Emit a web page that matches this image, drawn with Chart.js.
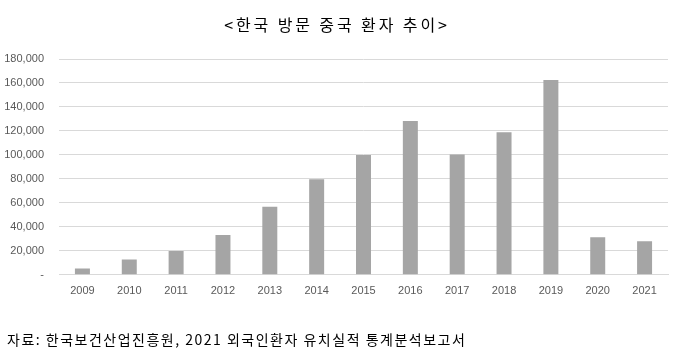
<!DOCTYPE html>
<html>
<head>
<meta charset="utf-8">
<script src="https://cdn.jsdelivr.net/npm/chart.js@4/dist/chart.umd.min.js"></script>
<style>
  html, body { margin: 0; padding: 0; background: #fff; }
  #wrap { width: 674px; height: 353px; position: relative; overflow: hidden; }
  #c { position: absolute; left: 0; top: 0; }
  #title { position: absolute; left: 0; width: 674px; top: 13px; text-align: center;
           font-family: 'Noto Sans CJK KR'; font-size: 16px; line-height: 22px; color: #000;
           letter-spacing: 2.9px; white-space: pre; }
  #source { position: absolute; left: 7px; top: 329px; font-family: 'Noto Sans CJK KR';
            font-size: 14px; line-height: 20px; color: #000; letter-spacing: 1.5px; white-space: pre; }
</style>
</head>
<body>
<div id="wrap">
  <canvas id="c" width="674" height="353"></canvas>
  <div id="title"></div>
  <div id="source"></div>
</div>
<script>
const categories = ['2009','2010','2011','2012','2013','2014','2015','2016','2017','2018','2019','2020','2021'];
const patients = [5200, 12700, 19800, 33300, 56800, 79600, 99900, 128200, 100400, 119000, 162500, 31300, 28000];
const yTicks = [0, 20000, 40000, 60000, 80000, 100000, 120000, 140000, 160000, 180000];
const titleText = '<한국 방문 중국 환자 추이>';
const sourceText = '자료: 한국보건산업진흥원, 2021 외국인환자 유치실적 통계분석보고서';

document.getElementById('title').textContent = titleText;
document.getElementById('source').textContent = sourceText;

new Chart(document.getElementById('c'), {
  type: 'bar',
  data: {
    labels: categories,
    datasets: [{
      data: patients,
      backgroundColor: '#A5A5A5',
      borderWidth: 0,
      categoryPercentage: 1,
      barPercentage: 0.32
    }]
  },
  options: {
    responsive: false,
    animation: false,
    layout: { padding: { left: 0, right: 6, top: 59, bottom: 53 } },
    plugins: {
      legend: { display: false },
      tooltip: { enabled: false }
    },
    scales: {
      x: {
        grid: { display: false },
        border: { display: true, color: '#D9D9D9' },
        ticks: { color: '#595959', font: { family: 'Liberation Sans', size: 11 }, padding: 2, maxRotation: 0 }
      },
      y: {
        min: yTicks[0],
        max: yTicks[yTicks.length - 1],
        afterFit: (s) => { s.width = 59; },
        afterBuildTicks: (s) => { s.ticks = yTicks.map(v => ({ value: v })); },
        grid: { color: '#D9D9D9', drawTicks: false },
        border: { display: false },
        ticks: {
          color: '#595959',
          padding: 15,
          font: { family: 'Liberation Sans', size: 11 },
          callback: (v) => v === 0 ? '-' : v.toLocaleString('en-US')
        }
      }
    }
  }
});
</script>
</body>
</html>
